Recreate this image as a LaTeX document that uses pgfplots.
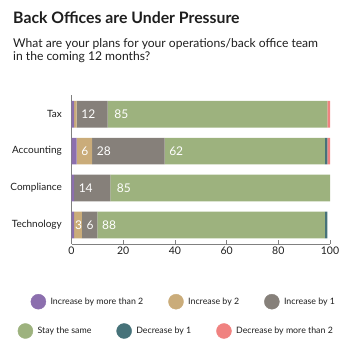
\documentclass[border=0pt]{standalone}
\usepackage{pgfplots}
\pgfplotsset{compat=1.18}
\usepackage{fontspec}
\setmainfont{Lato}
\definecolor{cpurple}{RGB}{140,111,174}
\definecolor{ctan}{RGB}{202,172,122}
\definecolor{cgray}{RGB}{134,128,122}
\definecolor{cgreen}{RGB}{157,178,126}
\definecolor{cteal}{RGB}{70,114,121}
\definecolor{cred}{RGB}{240,130,128}
\definecolor{axisgray}{RGB}{128,128,128}
\definecolor{txt}{RGB}{30,30,30}

\pgfplotsset{
  legrow/.style={
    at={(0pt,0pt)}, anchor=south west, scale only axis, width=350pt, height=350pt,
    hide axis, xmin=0, xmax=1, ymin=0, ymax=1,
    legend columns=3,
    legend style={draw=none, fill=none, inner sep=0pt, anchor=west,
      font=\fontsize{8.8}{10}\selectfont, text=txt,
      nodes={inner sep=0pt},
      /tikz/column sep=0pt,
      /tikz/every odd column/.append style={column sep=4.5pt},
      /tikz/every even column/.append style={column sep=25pt}},
  },
  legcirc/.style={legend image code/.code={\fill[#1] (7.5pt,0pt) circle (7.5pt);}},
}

\begin{document}
\begin{tikzpicture}
\path[use as bounding box] (0pt,0pt) rectangle (350pt,350pt);
\node[anchor=base west, inner sep=0pt, font=\fontsize{15.8}{18}\selectfont\bfseries, text=txt] at (13pt,326pt) {Back Offices are Under Pressure};
\node[anchor=base west, inner sep=0pt, font=\fontsize{12.1}{14}\selectfont, text=txt] at (13pt,302.3pt) {What are your plans for your operations/back office team};
\node[anchor=base west, inner sep=0pt, font=\fontsize{12.1}{14}\selectfont, text=txt] at (13pt,289.5pt) {in the coming 12 months?};

\begin{axis}[
  at={(71.5pt,106pt)}, anchor=south west, scale only axis,
  width=258.5pt, height=149pt,
  xbar stacked, bar width=26.7pt,
  xmin=0, xmax=100, ymin=-0.515, ymax=3.52,
  axis lines=left, axis line style={-, draw=axisgray, line width=0.8pt},
  xtick={0,20,40,60,80,100}, xtick align=inside, major tick length=4pt,
  xtick style={draw=axisgray, line width=0.8pt},
  ytick={0,1,2,3}, yticklabels={Technology,Compliance,Accounting,Tax},
  ytick style={draw=none},
  /pgf/number format/assume math mode=true,
  xticklabel style={font=\fontsize{10.5}{12}\selectfont, text=txt, inner sep=0pt, yshift=-3pt},
  yticklabel style={font=\fontsize{10}{12}\selectfont, text=txt, inner sep=0pt, xshift=-7.5pt},
  clip=false,
]
\addplot[fill=cpurple, draw=none] coordinates {(1,3) (2,2) (1,1) (1,0)};
\addplot[fill=ctan, draw=none] coordinates {(1,3) (6,2) (0,1) (3,0)};
\addplot[fill=cgray, draw=none] coordinates {(12,3) (28,2) (14,1) (6,0)};
\addplot[fill=cgreen, draw=none] coordinates {(85,3) (62,2) (85,1) (88,0)};
\addplot[fill=cteal, draw=none] coordinates {(0,3) (1,2) (0,1) (1,0)};
\addplot[fill=cred, draw=none] coordinates {(1,3) (1,2) (0,1) (0,0)};
\end{axis}

\begin{axis}[
  at={(71.5pt,106pt)}, anchor=south west, scale only axis,
  width=258.5pt, height=149pt,
  xmin=0, xmax=100, ymin=-0.515, ymax=3.52, hide axis, clip=false,
  nodes near coords, point meta=explicit symbolic,
  nodes near coords align=horizontal,
  every node near coord/.append style={anchor=west, inner sep=0pt, text=white,
    font=\fontsize{12}{14}\selectfont},
]
\addplot[draw=none, mark=none, every node near coord/.append style={xshift=4.5pt}]
  coordinates {(2,3) [12] (2,2) [6] (8,2) [28] (36,2) [62] (1,1) [14] (4,0) [6] (10,0) [88]};
\addplot[draw=none, mark=none, every node near coord/.append style={xshift=6.5pt}]
  coordinates {(14,3) [85] (15,1) [85]};
\addplot[draw=none, mark=none, every node near coord/.append style={xshift=0.8pt}]
  coordinates {(1,0) [3]};
\end{axis}

\begin{axis}[legrow, legend style={at={(0.0871,0.138)}}]
\addlegendimage{legcirc=cpurple}
\addlegendentry{Increase by more than 2}
\addlegendimage{legcirc=ctan}
\addlegendentry{Increase by 2}
\addlegendimage{legcirc=cgray}
\addlegendentry{Increase by 1}
\end{axis}

\begin{axis}[legrow, legend style={at={(0.05,0.0543)}}]
\addlegendimage{legcirc=cgreen}
\addlegendentry{Stay the same}
\addlegendimage{legcirc=cteal}
\addlegendentry{Decrease by 1}
\addlegendimage{legcirc=cred}
\addlegendentry{Decrease by more than 2}
\end{axis}
\end{tikzpicture}
\end{document}
